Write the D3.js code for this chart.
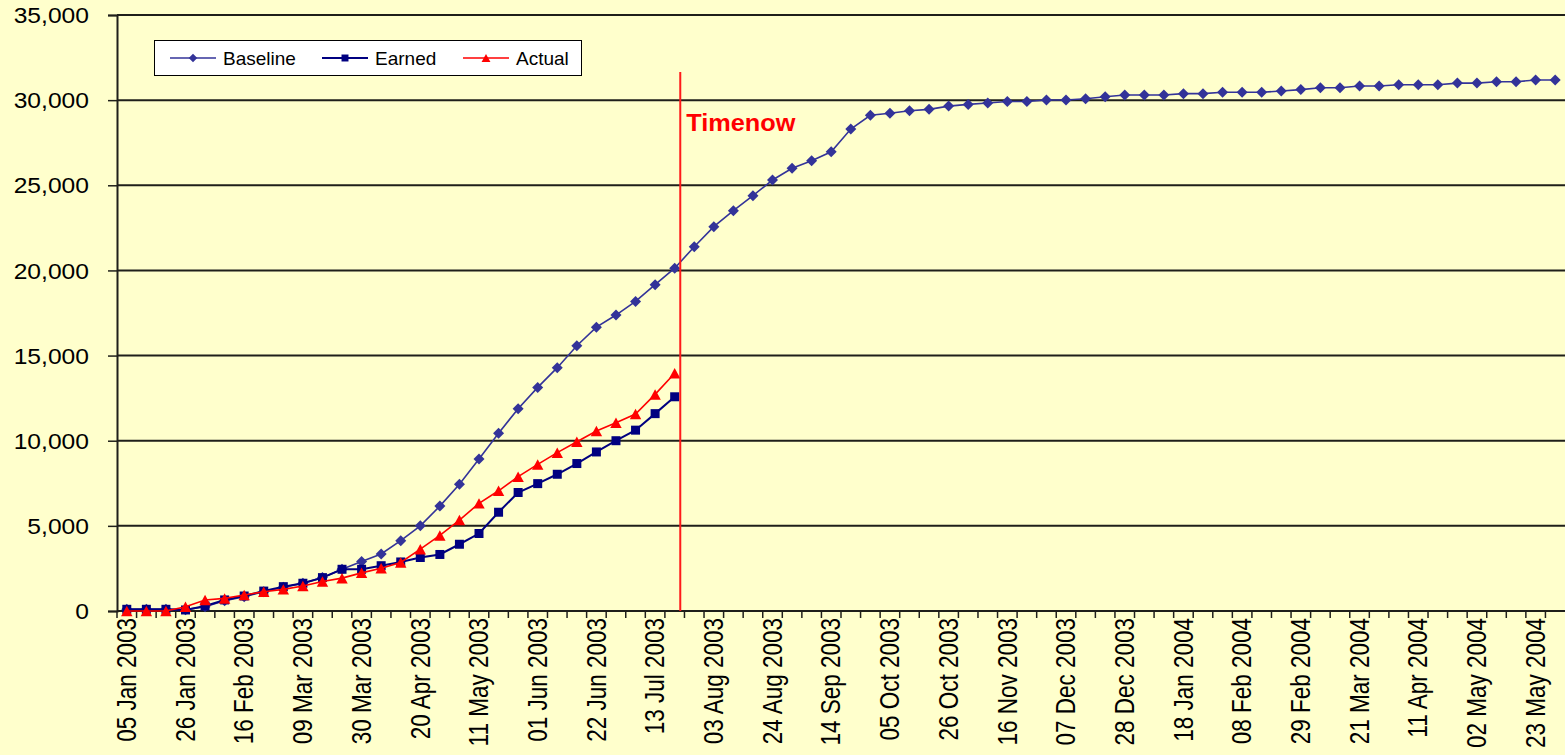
<!DOCTYPE html>
<html>
<head>
<meta charset="utf-8">
<script src="https://cdn.jsdelivr.net/npm/d3@7"></script>
<style>
  html, body { margin: 0; padding: 0; background: #FFFFCC; overflow: hidden; }
  svg { display: block; }
  text { font-family: Arial, "Liberation Sans", sans-serif; }
</style>
</head>
<body>
<svg id="chart" width="1565" height="755"></svg>
<script>
// Weekly reporting periods (week ending Sunday)
const weekStart = new Date(2003, 0, 5);
const weekEnd = new Date(2004, 4, 31);
const weeks = d3.timeWeek.range(weekStart, weekEnd);
const fmt = d3.timeFormat("%d %b %Y");
const categories = weeks.map(fmt);
const labelEvery = 3;

// Cumulative planned value (baseline)
const baseline = [
  100, 100, 100, 80, 250, 600, 840, 1130, 1390, 1630,
  1960, 2450, 2900, 3350, 4130, 5000, 6160, 7440, 8920, 10440,
  11880, 13130, 14290, 15580, 16670, 17380, 18180, 19160, 20130, 21390,
  22570, 23510, 24390, 25310, 26000, 26440, 26970, 28300, 29110, 29230,
  29380, 29460, 29650, 29750, 29830, 29920, 29920, 30010, 30010, 30080,
  30200, 30300, 30300, 30300, 30380, 30380, 30460, 30460, 30460, 30540,
  30620, 30730, 30730, 30830, 30830, 30900, 30900, 30900, 31000, 31000,
  31080, 31080, 31180, 31180
];

// Cumulative earned value up to the status date
const earned = [
  100, 100, 100, 60, 290, 650, 880, 1170, 1430, 1630,
  1960, 2450, 2450, 2660, 2880, 3140, 3320, 3920, 4550, 5800,
  6960, 7480, 8030, 8660, 9340, 10000, 10620, 11590, 12580
];

// Cumulative actual cost up to the status date
const actual = [
  0, 0, 0, 250, 650, 740, 940, 1130, 1270, 1470,
  1730, 1930, 2240, 2510, 2850, 3630, 4440, 5340, 6320, 7060,
  7890, 8610, 9300, 9940, 10570, 11060, 11570, 12720, 13960
];

const yTicks = [0, 5000, 10000, 15000, 20000, 25000, 30000, 35000];
const timenowDate = new Date(2003, 6, 22);
const timenowLabel = "Timenow";

// Marker shapes: square-on-point diamond, square, and a bbox-centred triangle
const markerShapes = {
  diamond: { draw(ctx, size) { const r = Math.sqrt(size) / 2; ctx.moveTo(0, -r); ctx.lineTo(r, 0); ctx.lineTo(0, r); ctx.lineTo(-r, 0); ctx.closePath(); } },
  square:  { draw(ctx, size) { const h = Math.sqrt(size) / 2; ctx.rect(-h, -h, 2 * h, 2 * h); } },
  triangle:{ draw(ctx, size) { const w = Math.sqrt(size) / 2, h = w * 0.92; ctx.moveTo(0, -h); ctx.lineTo(w, h); ctx.lineTo(-w, h); ctx.closePath(); } }
};

const seriesList = [
  { name: "Baseline", values: baseline, color: "#333399", marker: "diamond",  size: 121, width: 1.6 },
  { name: "Earned",   values: earned,   color: "#000080", marker: "square",   size: 81,  width: 2 },
  { name: "Actual",   values: actual,   color: "#FF0000", marker: "triangle", size: 130, width: 1.6 }
];

const svg = d3.select("#chart");
const plotLeft = 117, plotRight = 1565, plotTop = 15, plotBottom = 611;

const x = d3.scaleBand().domain(categories).range([plotLeft, plotRight]).padding(0);
const cx = c => x(c) + x.bandwidth() / 2;
const y = d3.scaleLinear().domain([0, 35000]).range([plotBottom, plotTop]);

// Horizontal gridlines
svg.append("g")
  .selectAll("line")
  .data(yTicks.filter(v => v > 0))
  .join("line")
  .attr("x1", plotLeft).attr("x2", plotRight)
  .attr("y1", d => y(d)).attr("y2", d => y(d))
  .attr("stroke", "#1f1f1a").attr("stroke-width", 2);

// Y axis
const yAxis = svg.append("g")
  .attr("transform", `translate(${plotLeft},0)`)
  .call(d3.axisLeft(y).tickValues(yTicks).tickSize(9).tickPadding(19).tickFormat(d3.format(",")));
yAxis.select(".domain").attr("stroke", "#1f1f1a").attr("stroke-width", 2);
yAxis.selectAll(".tick line").attr("stroke", "#1f1f1a").attr("stroke-width", 1.5);
yAxis.selectAll(".tick text")
  .attr("font-size", 22)
  .attr("font-family", "Arial, 'Liberation Sans', sans-serif")
  .attr("fill", "#000")
  .attr("dy", "0.35em")
  .each(function () {
    const t = d3.select(this);
    const tx = +t.attr("x");
    t.attr("x", null).attr("transform", `translate(${tx},0) scale(1.12,1)`);
  });

// X axis: category boundary ticks
const xAxisG = svg.append("g");
xAxisG.append("line")
  .attr("x1", plotLeft).attr("x2", plotRight)
  .attr("y1", plotBottom).attr("y2", plotBottom)
  .attr("stroke", "#1f1f1a").attr("stroke-width", 2);
xAxisG.selectAll("line.tk")
  .data(categories)
  .join("line")
  .attr("class", "tk")
  .attr("x1", d => x(d)).attr("x2", d => x(d))
  .attr("y1", plotBottom).attr("y2", plotBottom + 7)
  .attr("stroke", "#1f1f1a").attr("stroke-width", 1.5);

// X axis labels (every third week), rotated
xAxisG.selectAll("text")
  .data(categories.filter((d, i) => i % labelEvery === 0))
  .join("text")
  .attr("transform", d => `translate(${cx(d)},${plotBottom + 7}) rotate(-90) scale(1,1.2)`)
  .attr("text-anchor", "end")
  .attr("dominant-baseline", "central")
  .attr("font-size", 22.5)
  .attr("fill", "#000")
  .text(d => d);

// Series lines and markers
seriesList.forEach(s => {
  const pts = s.values.map((v, i) => [cx(categories[i]), y(v)]);
  svg.append("path")
    .attr("d", d3.line()(pts))
    .attr("fill", "none")
    .attr("stroke", s.color)
    .attr("stroke-width", s.width);
  svg.append("g")
    .selectAll("path")
    .data(pts)
    .join("path")
    .attr("transform", d => `translate(${d[0]},${d[1]})`)
    .attr("d", d3.symbol(markerShapes[s.marker], s.size))
    .attr("fill", s.color);
});

// Status date marker
const weekIdx = d3.timeWeek.count(weekStart, timenowDate);
const prevWeek = d3.timeWeek.offset(weekStart, weekIdx);
const frac = (timenowDate - prevWeek) / (7 * 24 * 3600 * 1000);
const tnX = cx(categories[weekIdx]) + frac * x.step();
svg.append("line")
  .attr("x1", tnX).attr("x2", tnX)
  .attr("y1", 72).attr("y2", plotBottom)
  .attr("stroke", "#FF1A1A").attr("stroke-width", 2);
svg.append("text")
  .attr("transform", `translate(${tnX + 6},131) scale(1.1,1)`)
  .attr("font-size", 23)
  .attr("font-weight", "bold")
  .attr("fill", "#FF0000")
  .text(timenowLabel);

// Legend
const legend = svg.append("g");
legend.append("rect")
  .attr("x", 154.5).attr("y", 40.5).attr("width", 427).attr("height", 35)
  .attr("fill", "#FFFFFF").attr("stroke", "#000").attr("stroke-width", 1);
const legendX = [170, 322, 463];
seriesList.forEach((s, i) => {
  const lx = legendX[i];
  legend.append("line")
    .attr("x1", lx).attr("x2", lx + 46)
    .attr("y1", 58).attr("y2", 58)
    .attr("stroke", s.color).attr("stroke-width", s.width);
  legend.append("path")
    .attr("transform", `translate(${lx + 23},58)`)
    .attr("d", d3.symbol(markerShapes[s.marker], s.size * 0.6))
    .attr("fill", s.color);
  legend.append("text")
    .attr("x", lx + 53).attr("y", 58)
    .attr("dy", "0.35em")
    .attr("font-size", 19)
    .attr("fill", "#000")
    .text(s.name);
});
</script>
</body>
</html>
